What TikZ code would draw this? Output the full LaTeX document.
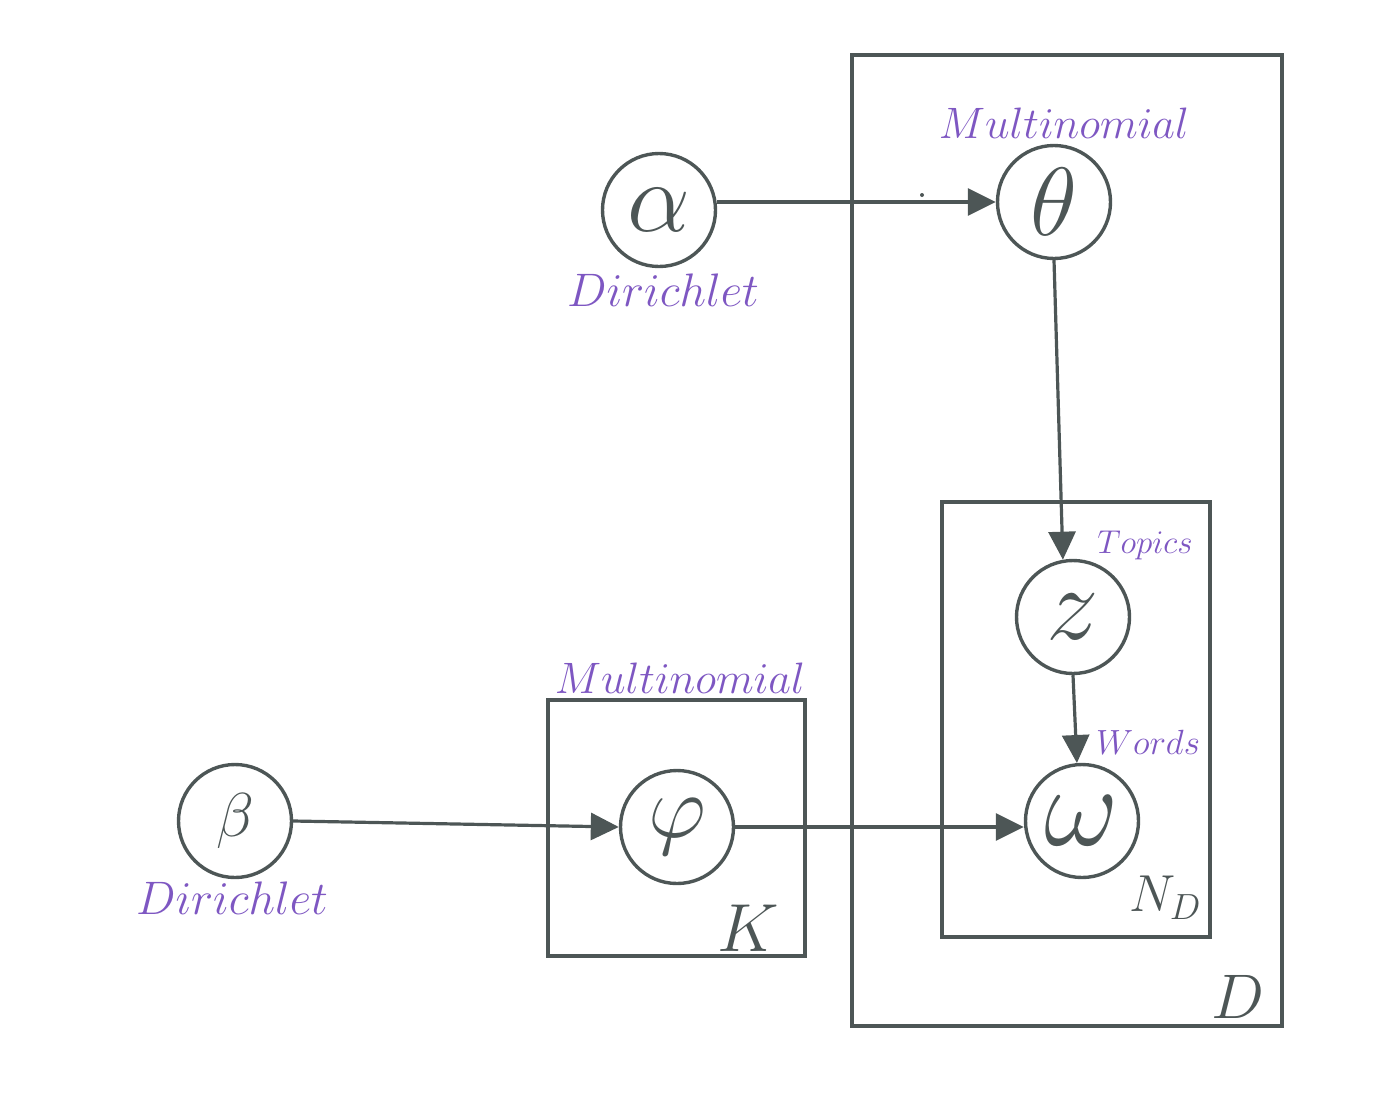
\documentclass[tikz,border=0pt]{standalone}
\usepackage{fix-cm}
\usetikzlibrary{arrows.meta,calc}
\definecolor{ink}{HTML}{4D5656}
\definecolor{lab}{HTML}{7E57C2}
\tikzset{
  var/.style={circle,draw=ink,line width=3.4pt,minimum size=113pt,inner sep=0pt,text=ink},
  plate/.style={draw=ink,line width=3.4pt},
  edge/.style={draw=ink,line width=3.2pt,-{Triangle[length=28pt,width=27pt]}},
  dist/.style={text=lab,inner sep=0pt},
  platelab/.style={text=ink,inner sep=0pt},
}
\begin{document}
\begin{tikzpicture}[x=1pt,y=-1pt]
\useasboundingbox (0,0) rectangle (1387,1104);
% plates
\draw[plate] (852,55) rectangle (1282,1026);
\draw[plate] (942,502) rectangle (1210,937);
\draw[plate] (548,700) rectangle (805,956);
% variables
\node[var] (alpha) at (659,210) {\fontsize{100}{100}\selectfont$\alpha$};
\node[var] (theta) at (1054,202) {\fontsize{97}{97}\selectfont$\theta$};
\node[var] (z) at (1073,617) {\fontsize{105}{105}\selectfont$z$};
\node[var] (omega) at (1082,821) {\fontsize{115}{115}\selectfont$\omega$};
\node[var] (beta) at (235,821) {\fontsize{62}{62}\selectfont$\beta$};
\node[var] (phi) at (677,827) {\fontsize{90}{90}\selectfont$\varphi$};
% labels
\node[dist] (lt) at (1064,123) {\fontsize{44}{44}\selectfont$Multinomial$};
\node[dist] (la) at (663,290) {\fontsize{47}{47}\selectfont$Dirichlet$};
\node[dist] (lk) at (680,678) {\fontsize{44}{44}\selectfont$Multinomial$};
\node[dist] (lb) at (232,898) {\fontsize{47}{47}\selectfont$Dirichlet$};
\node[dist] (ltop) at (1145,545) {\fontsize{33}{33}\selectfont$Topics$};
\node[dist] (lw) at (1148,742) {\fontsize{35}{35}\selectfont$Words$};
\node[platelab] (pk) at (748,928) {\fontsize{68}{68}\selectfont$K$};
\node[platelab] (pn) at (1165,898) {\fontsize{52}{52}\selectfont$N_D$};
\node[platelab] (pd) at (1238,997) {\fontsize{63}{63}\selectfont$D$};
% stray dot
\coordinate (dot) at (922,195);
\fill[ink] (dot) circle (2pt);
% edges
\draw[edge] (alpha.east |- theta.west) -- (theta.west);
\draw[edge] (theta.south) -- (z.100);
\draw[edge] (z.south) -- (omega.95);
\draw[edge] (beta.east) -- (phi.west);
\draw[edge] (phi.east) -- (phi.east -| omega.west);
\end{tikzpicture}
\end{document}
